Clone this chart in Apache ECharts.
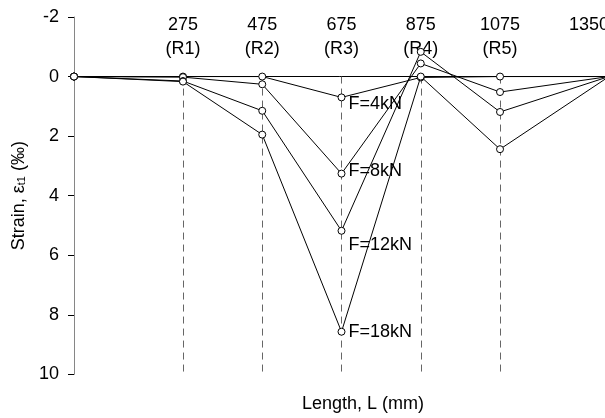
<!DOCTYPE html>
<html>
<head>
<meta charset="utf-8">
<script src="https://cdn.jsdelivr.net/npm/echarts@6/dist/echarts.min.js"></script>
<style>
html,body{margin:0;padding:0;background:#fff;}
#chart{width:605px;height:418px;}
</style>
</head>
<body>
<div id="chart"></div>
<script>
// Measurement positions along the length (mm)
var positions = [0, 275, 475, 675, 875, 1075, 1350];
// Top tick labels
var topLabels = {275: '275\n(R1)', 475: '475\n(R2)', 675: '675\n(R3)', 875: '875\n(R4)', 1075: '1075\n(R5)', 1350: '1350\n '};
// Series names
var seriesNames = ['F=4kN', 'F=8kN', 'F=12kN', 'F=18kN'];
// Strain values (‰) at each position
var strainF4  = [0, 0,    0,    0.70, 0.03,  0,    0];
var strainF8  = [0, 0.02, 0.26, 3.26, -0.44, 0.52, 0];
var strainF12 = [0, 0.15, 1.15, 5.18, -0.83, 1.19, 0];
var strainF18 = [0, 0.17, 1.95, 8.57, 0,     2.44, 0];
// Dashed reference lines (rebar positions)
var refPositions = [275, 475, 675, 875, 1075];

var allStrain = [strainF4, strainF8, strainF12, strainF18];
var labelIndex = 3;
var labelOffsets = [[0, 7], [0, -3], [0, 14], [0, 0]];
var FONT = "'Liberation Sans', Arial, sans-serif";

var chart = echarts.init(document.getElementById('chart'), null, {renderer: 'canvas'});

var series = allStrain.map(function (vals, s) {
  return {
    name: seriesNames[s],
    type: 'line',
    symbol: 'circle',
    symbolSize: 7,
    lineStyle: {color: '#000', width: 1},
    itemStyle: {color: '#fff', borderColor: '#000', borderWidth: 1},
    z: 5,
    data: vals.map(function (v, i) {
      var item = {value: [positions[i], v]};
      if (i === labelIndex) {
        item.label = {
          show: true,
          position: 'right',
          distance: 3,
          offset: labelOffsets[s],
          formatter: seriesNames[s],
          color: '#000',
          fontSize: 18,
          fontFamily: FONT
        };
      }
      return item;
    })
  };
});

series[0].markLine = {
  silent: true,
  symbol: ['none', 'none'],
  label: {show: false},
  lineStyle: {color: '#666', type: [7, 5], width: 1},
  z: 1,
  data: refPositions.map(function (p) {
    return [{coord: [p, 0]}, {coord: [p, 10]}];
  })
};

chart.setOption({
  animation: false,
  backgroundColor: '#fff',
  textStyle: {fontFamily: FONT},
  grid: {left: 74, right: -4, top: 17, bottom: 418 - 374.3, containLabel: false, outerBoundsMode: 'none'},
  xAxis: [{
    type: 'value',
    min: 0, max: 1350,
    position: 'bottom',
    axisLine: {show: true, onZero: true, lineStyle: {color: '#000', width: 1}},
    axisTick: {show: false},
    axisLabel: {show: false},
    splitLine: {show: false}
  }, {
    type: 'value',
    min: 0, max: 1350, interval: 25,
    position: 'top',
    offset: -44,
    axisLine: {show: false},
    axisTick: {show: false},
    splitLine: {show: false},
    axisLabel: {
      show: true,
      margin: 0,
      showMaxLabel: true,
      showMinLabel: true,
      alignMaxLabel: 'right',
      fontSize: 18,
      lineHeight: 24,
      color: '#000',
      fontFamily: FONT,
      formatter: function (v) { return topLabels[v] || ''; }
    }
  }],
  yAxis: {
    type: 'value',
    inverse: true,
    min: -2, max: 10, interval: 2,
    axisLine: {show: true, lineStyle: {color: '#868686', width: 1}},
    axisTick: {show: true, inside: false, length: 6, lineStyle: {color: '#000'}},
    axisLabel: {fontSize: 18, color: '#000', margin: 15, fontFamily: FONT},
    splitLine: {show: false},
    name: '{a|Strain, ε}{s|t1}{a| (‰)}',
    nameLocation: 'middle',
    nameGap: 37,
    nameTextStyle: {
      rich: {
        a: {fontSize: 18, color: '#000', fontFamily: FONT},
        s: {fontSize: 11, color: '#000', fontFamily: FONT, padding: [6, 0, 0, 0]}
      }
    }
  },
  graphic: [{
    type: 'text',
    style: {
      text: 'Length, L (mm)',
      x: 363, y: 404,
      textAlign: 'center',
      textVerticalAlign: 'middle',
      fontSize: 18,
      fontFamily: FONT,
      fill: '#000'
    }
  }],
  series: series
});
</script>
</body>
</html>
